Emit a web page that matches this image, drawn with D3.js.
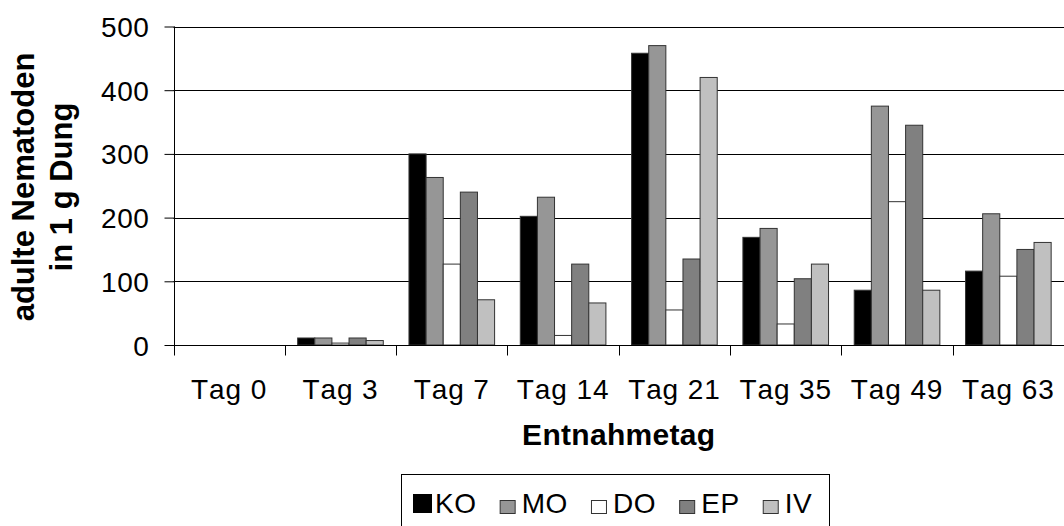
<!DOCTYPE html>
<html><head><meta charset="utf-8">
<script src="https://cdn.jsdelivr.net/npm/d3@7"></script>
<style>body{margin:0;background:#fff} svg{display:block} text{font-family:"Liberation Sans",Arial,sans-serif;fill:#000;font-kerning:none}</style>
</head><body><svg width="1064" height="526"></svg>
<script>
const categories = ["Tag 0","Tag 3","Tag 7","Tag 14","Tag 21","Tag 35","Tag 49","Tag 63"];
const seriesNames = ["KO","MO","DO","EP","IV"];
const KO = [0,11,300,202,458,169,86,116];
const MO = [0,11,263,232,470,183,375,206];
const DO = [0,3,127,15,55,33,225,108];
const EP = [0,11,240,127,135,104,345,150];
const IV = [0,7,71,66,420,127,86,161];
const yTicks = [0,100,200,300,400,500];
const colors = ["#000000","#969696","#ffffff","#808080","#c0c0c0"];
const xTitle = "Entnahmetag";
const yTitle = ["adulte Nematoden","in 1 g Dung"];

const seriesValues = [KO,MO,DO,EP,IV];
const svg = d3.select("svg");
const pLeft = 173.5, pRight = 1064, pTop = 26.5, pBottom = 345;

const x0 = d3.scaleBand().domain(categories).range([pLeft, pRight]).padding(0);
const bw = x0.bandwidth();
const gap = bw * 1.5 / 6.5;
const x1 = d3.scaleBand().domain(seriesNames).range([gap/2, bw - gap/2]).padding(0);
const y = d3.scaleLinear().domain([0,500]).range([pBottom, pTop]);

// gridlines
svg.append("g").selectAll("line").data(yTicks.filter(d=>d>0)).join("line")
  .attr("x1", pLeft).attr("x2", pRight)
  .attr("y1", d=>Math.round(y(d))+0.5).attr("y2", d=>Math.round(y(d))+0.5)
  .attr("stroke","#000").attr("stroke-width",1);

// bars
const gBars = svg.append("g");
seriesNames.forEach((s,i)=>{
  gBars.append("g").selectAll("rect").data(seriesValues[i]).join("rect")
    .attr("x",(d,j)=>x0(categories[j]) + x1(s))
    .attr("width", x1.bandwidth())
    .attr("y", d=>y(d))
    .attr("height", d=>y(0)-y(d))
    .attr("fill", colors[i])
    .attr("stroke","#333").attr("stroke-width",1);
});

// y axis
const yAxis = d3.axisLeft(y).tickValues(yTicks).tickSize(10).tickPadding(15).tickFormat(d3.format("d"));
const gy = svg.append("g").attr("transform",`translate(${Math.round(pLeft)+0.5},0)`).call(yAxis);
gy.attr("font-family",null).attr("font-size",null);
gy.select(".domain").attr("stroke","#000").attr("d",`M0,${pTop}V${pBottom}`);
gy.selectAll(".tick line").attr("stroke","#000");
gy.selectAll("text").style("font-size","28px").style("letter-spacing","0.6px").attr("dy","0.36em");

// x axis
const xAxis = d3.axisBottom(x0).tickSize(0).tickPadding(0);
const gx = svg.append("g").attr("transform",`translate(0,${Math.round(pBottom)+0.5})`).call(xAxis);
gx.attr("font-family",null).attr("font-size",null);
gx.select(".domain").attr("stroke","#000").attr("d",`M${pLeft},0H${pRight}`);
gx.selectAll(".tick text").style("font-size","28px").style("letter-spacing","0.9px").attr("y",53).attr("dy",0);
// category boundary ticks
gx.append("g").selectAll("line").data(categories.concat(["__end"])).join("line")
  .attr("x1",(d,i)=>Math.round(pLeft + i*bw)+0.5).attr("x2",(d,i)=>Math.round(pLeft + i*bw)+0.5)
  .attr("y1",0).attr("y2",10).attr("stroke","#000");

// titles
svg.append("text").attr("x",(pLeft+pRight)/2).attr("y",445).attr("text-anchor","middle")
  .style("font-size","30px").style("font-weight","bold").style("letter-spacing","0.3px").text(xTitle);
const yt = svg.append("text").attr("transform","translate(0,187) rotate(-90)")
  .attr("text-anchor","middle").style("font-size","31px").style("font-weight","bold");
yt.append("tspan").attr("x",0).attr("y",34).text(yTitle[0]);
yt.append("tspan").attr("x",0).attr("y",72).text(yTitle[1]);

// legend
const lg = svg.append("g");
lg.append("rect").attr("x",401.5).attr("y",474.5).attr("width",428).attr("height",60)
  .attr("fill","none").attr("stroke","#000");
let lx = 413;
seriesNames.forEach((s,i)=>{
  if(i===0){
    lg.append("rect").attr("x",lx).attr("y",494).attr("width",19).attr("height",19).attr("fill",colors[i]);
  } else {
    lg.append("rect").attr("x",lx+0.5).attr("y",500.5).attr("width",15).attr("height",13)
      .attr("fill",colors[i]).attr("stroke","#333");
  }
  const t = lg.append("text").attr("x",lx+22).attr("y",513).style("font-size","28px").style("letter-spacing","0.6px").text(s);
  lx += 22 + t.node().getComputedTextLength() + 23;
});
</script></body></html>
